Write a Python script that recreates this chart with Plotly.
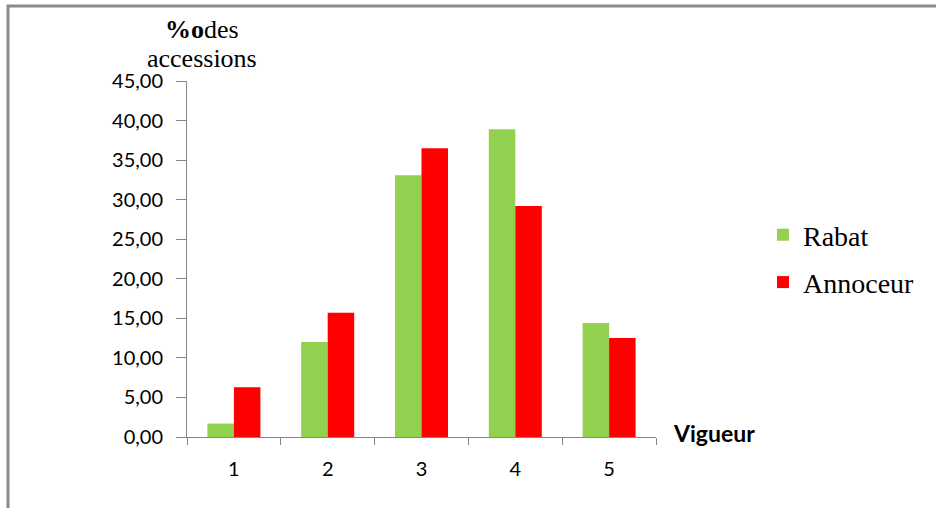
import plotly.graph_objects as go

# Vigour class distribution of accessions for two sites
categories = ["1", "2", "3", "4", "5"]
rabat = [1.7, 12.0, 33.1, 38.9, 14.4]
annoceur = [6.3, 15.7, 36.5, 29.2, 12.5]
series_names = ["Rabat", "Annoceur"]
y_ticks = [0, 5, 10, 15, 20, 25, 30, 35, 40, 45]

W, H = 936, 508
ML, MR, MT, MB = 187, 280, 81, 71
PW, PH = W - ML - MR, H - MT - MB


def px_x(p):
    return (p - ML) / PW


def px_y(p):
    return (H - MB - p) / PH


fig = go.Figure()
fig.add_trace(go.Bar(x=categories, y=rabat, name=series_names[0],
                     marker=dict(color="#92D050", line=dict(width=0)),
                     legendgroup="a"))
fig.add_trace(go.Bar(x=categories, y=annoceur, name=series_names[1],
                     marker=dict(color="#FF0000", line=dict(width=0)),
                     legendgroup="b"))

axis_col = "#868686"
fig.update_layout(
    width=W, height=H,
    margin=dict(l=ML, r=MR, t=MT, b=MB, pad=0),
    paper_bgcolor="white", plot_bgcolor="white",
    separators=",.",
    barmode="group", bargap=0.435, bargroupgap=0,
    font=dict(family="Lato", size=20, color="#000000"),
    showlegend=True,
    legend=dict(x=px_x(763), xanchor="left", y=px_y(210), yanchor="top",
                font=dict(family="Liberation Serif", size=28, color="#000000"),
                tracegroupgap=8, bgcolor="rgba(0,0,0,0)"),
    xaxis=dict(type="category", showline=True, linecolor=axis_col, linewidth=1,
               ticks="outside", tickson="boundaries", ticklen=7, tickcolor=axis_col,
               showgrid=False, zeroline=False, ticklabelstandoff=14,
               tickfont=dict(family="Lato", size=20)),
    yaxis=dict(range=[0, 45], tickvals=y_ticks, tickformat=".2f",
               showline=True, linecolor=axis_col, linewidth=1,
               ticks="outside", ticklen=10, tickcolor=axis_col,
               showgrid=False, zeroline=False, ticklabelstandoff=9,
               tickfont=dict(family="Lato", size=20)),
)

# axis titles
fig.add_annotation(text="<b>%o</b>des", x=px_x(202), y=px_y(29), xref="paper", yref="paper",
                   showarrow=False, xanchor="center", yanchor="middle",
                   font=dict(family="Liberation Serif", size=26, color="#000000"))
fig.add_annotation(text="accessions", x=px_x(202), y=px_y(59), xref="paper", yref="paper",
                   showarrow=False, xanchor="center", yanchor="middle",
                   font=dict(family="Liberation Serif", size=26, color="#000000"))
fig.add_annotation(text="<b>Vigueur</b>", x=px_x(714), y=px_y(433), xref="paper", yref="paper",
                   showarrow=False, xanchor="center", yanchor="middle",
                   font=dict(family="Lato", size=23, color="#000000"))

# outer chart frame (top and left edges visible)
fig.add_shape(type="path", xref="paper", yref="paper",
              path=f"M {px_x(8)} {px_y(530)} L {px_x(8)} {px_y(6)} L {px_x(960)} {px_y(6)}",
              line=dict(color="#8A8A8A", width=3), layer="above")

fig.write_html("out.html")
